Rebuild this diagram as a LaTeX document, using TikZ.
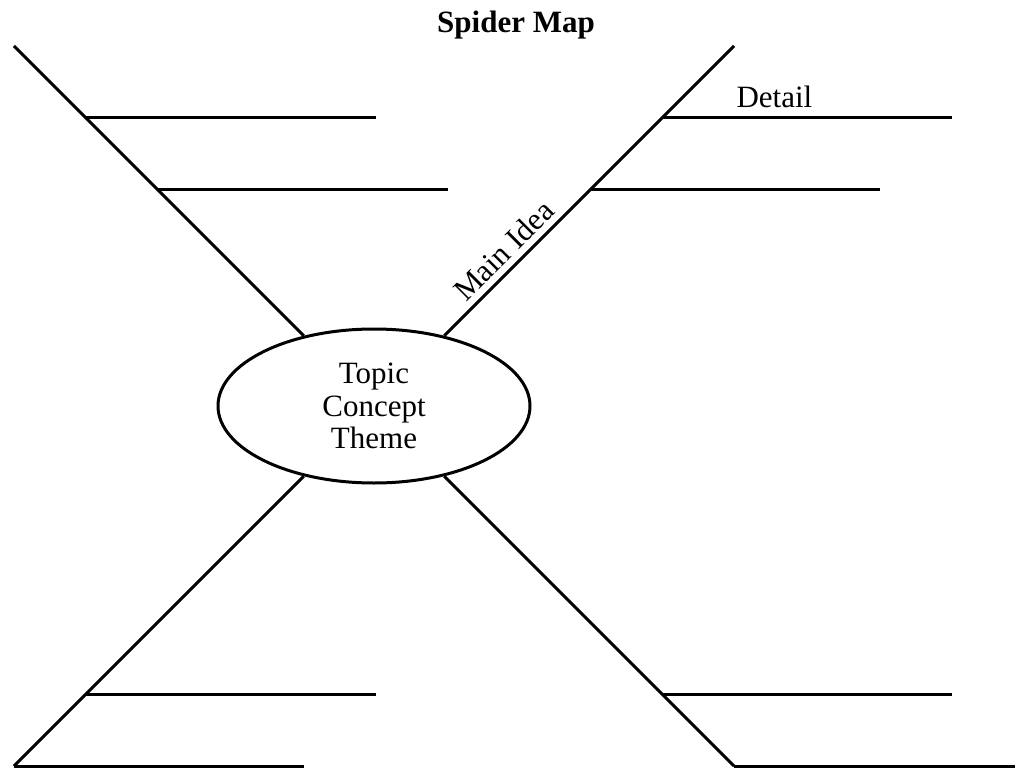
\documentclass[tikz,border=0pt]{standalone}
\usepackage{fontspec}
\setmainfont{Liberation Serif}
\usetikzlibrary{shapes.geometric,calc}
\begin{document}
\begin{tikzpicture}[x=1pt,y=-1pt,
  line width=3pt,
  bodyfont/.style={font=\fontsize{31}{32.5}\selectfont},
  hub/.style={ellipse,draw,line width=3pt,minimum width=312pt,minimum height=154pt,
    align=center,inner sep=0pt,bodyfont},
  leg/.style={line width=3pt},
  branch/.style={line width=3pt}]
\useasboundingbox (0,0) rectangle (1015,768);

% title
\node[font=\fontsize{31}{32.5}\selectfont\bfseries,anchor=base] (title) at (516,33) {Spider Map};

% central topic
\node[hub] (topic) at (374,406) {Topic\\Concept\\Theme};

% outer ends of the four legs
\coordinate (ul) at ($(topic.center)+(-360,-360)$);
\coordinate (ur) at ($(topic.center)+(360,-360)$);
\coordinate (ll) at ($(topic.center)+(-360,360)$);
\coordinate (lr) at ($(topic.center)+(360,360)$);

% legs
\draw[leg] (topic) -- (ul);
\draw[leg] (topic) -- node[pos=0.25,sloped,above,inner sep=6pt,bodyfont] (mainidea) {Main Idea} (ur);
\draw[leg] (topic) -- (ll);
\draw[leg] (topic) -- (lr);

% branch points on the legs
\coordinate (ulA) at ($(topic.center)!0.8!(ul)$);
\coordinate (ulB) at ($(topic.center)!0.6!(ul)$);
\coordinate (urA) at ($(topic.center)!0.8!(ur)$);
\coordinate (urB) at ($(topic.center)!0.6!(ur)$);
\coordinate (llA) at ($(topic.center)!0.8!(ll)$);
\coordinate (llB) at (ll);
\coordinate (lrA) at ($(topic.center)!0.8!(lr)$);
\coordinate (lrB) at (lr);

% detail lines, all running to the right
\foreach \b in {ulA,ulB,urA,urB,llA,llB,lrA,lrB}{
  \coordinate (\b e) at ($(\b)+(290,0)$);
  \draw[branch] (\b) -- (\b e);
}

% detail label
\node[bodyfont,anchor=base west,inner sep=0pt] (detail) at (735,107) {Detail};
\end{tikzpicture}
\end{document}
